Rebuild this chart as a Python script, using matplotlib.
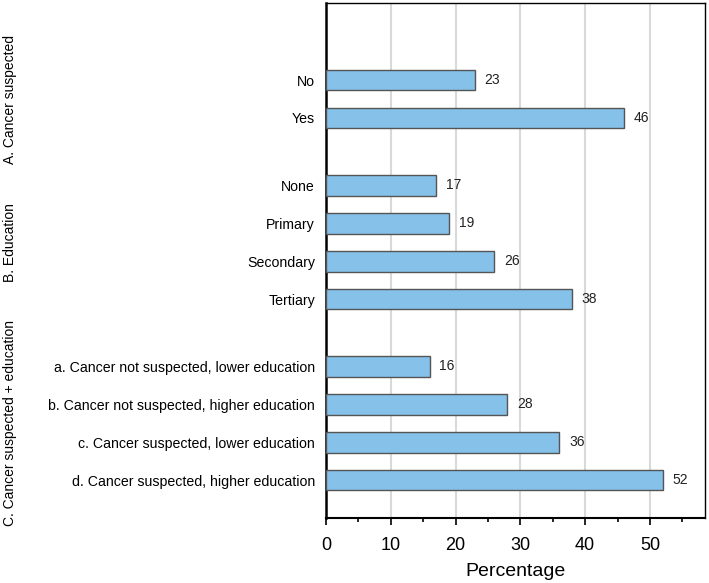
import matplotlib.pyplot as plt
from matplotlib.ticker import MultipleLocator
from matplotlib.transforms import blended_transform_factory

plt.rcParams['font.family'] = ['Liberation Sans', 'DejaVu Sans']

grupos = ['A. Cancer suspected', 'B. Education', 'C. Cancer suspected + education']
cat_a = ['No', 'Yes']
val_a = [23, 46]
cat_b = ['None', 'Primary', 'Secondary', 'Tertiary']
val_b = [17, 19, 26, 38]
cat_c = ['a. Cancer not suspected, lower education',
         'b. Cancer not suspected, higher education',
         'c. Cancer suspected, lower education',
         'd. Cancer suspected, higher education']
val_c = [16, 28, 36, 52]

gap = 0.77
fig = plt.figure(figsize=(7.09, 5.83), dpi=100)
ax = fig.add_axes([326 / 709, 65 / 583, (705 - 326) / 709, (518 - 3) / 583])

labels, vals, pos, centros = [], [], [], []
y = 0.0
for cats, vs in [(cat_a, val_a), (cat_b, val_b), (cat_c, val_c)]:
    ys = [y + i for i in range(len(cats))]
    labels += cats
    vals += vs
    pos += ys
    centros.append((ys[0] + ys[-1]) / 2)
    y = ys[-1] + 1 + gap

ax.barh(pos, vals, height=0.55, color='#85C1E9', edgecolor='#555555', linewidth=1, zorder=3)
for p, v in zip(pos, vals):
    ax.text(v + 1.5, p, str(v), va='center', ha='left', fontsize=10, color='#222222')

ax.set_yticks(pos)
ax.set_yticklabels(labels, fontsize=10.2)
ax.tick_params(axis='y', length=0, pad=8)
ax.set_ylim(max(pos) + 1, -2.03)
ax.set_xlim(0, 58.5)
ax.xaxis.set_major_locator(MultipleLocator(10))
ax.xaxis.set_minor_locator(MultipleLocator(5))
ax.tick_params(axis='x', which='major', length=5, width=1.2, labelsize=13, pad=9)
ax.tick_params(axis='x', which='minor', length=3, width=1.2)
ax.grid(axis='x', color='#d9d9d9', linewidth=1.5, zorder=0)
ax.set_xlabel('Percentage', fontsize=14, labelpad=6)
for s in ax.spines.values():
    s.set_color('black')
    s.set_linewidth(1)
ax.spines['left'].set_linewidth(1.8)
ax.spines['bottom'].set_linewidth(1.5)

trans = blended_transform_factory(fig.transFigure, ax.transData)
for g, c in zip(grupos, centros):
    ax.text(10 / 709, c, g, rotation=90, va='center', ha='center', fontsize=10, transform=trans)

fig.savefig('out.png', dpi=100)
